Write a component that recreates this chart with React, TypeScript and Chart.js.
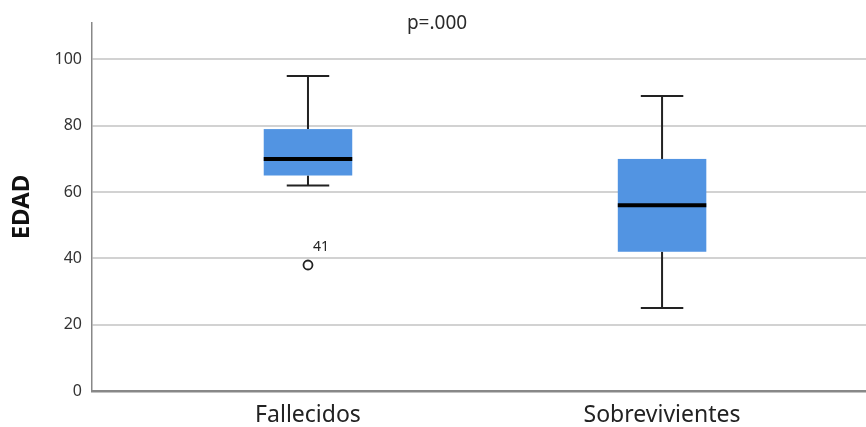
import React, { useEffect, useRef } from "react";
import { Chart, registerables } from "chart.js";

Chart.register(...registerables);

const categories = ["Fallecidos", "Sobrevivientes"];
const whiskerLow = [62, 25];
const q1 = [65, 42];
const median = [70, 56];
const q3 = [79, 70];
const whiskerHigh = [95, 89];
const outlierCats = [0];
const outlierValues = [38];
const outlierLabels = ["41"];
const yTicks = [0, 20, 40, 60, 80, 100];
const titleText = "p=.000";
const yTitle = "EDAD";

const FONT = "'Noto Sans', 'DejaVu Sans', sans-serif";

const boxPlugin = {
  id: "boxPlugin",
  beforeDatasetsDraw(chart: any) {
    const { ctx, scales } = chart;
    const xs = scales.x;
    const ys = scales.y;
    const boxHalf = 0.125;
    const capHalf = 0.06;
    ctx.save();
    categories.forEach((_, i) => {
      const xl = xs.getPixelForValue(i - boxHalf);
      const xr = xs.getPixelForValue(i + boxHalf);
      const xc = xs.getPixelForValue(i);
      const cl = xs.getPixelForValue(i - capHalf);
      const cr = xs.getPixelForValue(i + capHalf);
      const yLo = ys.getPixelForValue(whiskerLow[i]);
      const yQ1 = ys.getPixelForValue(q1[i]);
      const yMed = ys.getPixelForValue(median[i]);
      const yQ3 = ys.getPixelForValue(q3[i]);
      const yHi = ys.getPixelForValue(whiskerHigh[i]);
      ctx.strokeStyle = "#222";
      ctx.lineWidth = 2;
      ctx.beginPath();
      ctx.moveTo(xc, yHi);
      ctx.lineTo(xc, yQ3);
      ctx.moveTo(xc, yQ1);
      ctx.lineTo(xc, yLo);
      ctx.moveTo(cl, yHi);
      ctx.lineTo(cr, yHi);
      ctx.moveTo(cl, yLo);
      ctx.lineTo(cr, yLo);
      ctx.stroke();
      ctx.fillStyle = "#5294E2";
      ctx.fillRect(xl, yQ3, xr - xl, yQ1 - yQ3);
      ctx.strokeStyle = "#000";
      ctx.lineWidth = 4;
      ctx.beginPath();
      ctx.moveTo(xl, yMed);
      ctx.lineTo(xr, yMed);
      ctx.stroke();
    });
    ctx.restore();
  },
  afterDatasetsDraw(chart: any) {
    const { ctx, scales } = chart;
    const xs = scales.x;
    const ys = scales.y;
    ctx.save();
    ctx.fillStyle = "#222";
    ctx.font = `14px ${FONT}`;
    ctx.textAlign = "left";
    ctx.textBaseline = "middle";
    outlierValues.forEach((v, k) => {
      const px = xs.getPixelForValue(outlierCats[k]);
      const py = ys.getPixelForValue(v);
      ctx.fillText(outlierLabels[k], px + 5, py - 18);
    });
    ctx.fillStyle = "#2a2a2a";
    ctx.font = `19px ${FONT}`;
    ctx.textAlign = "center";
    ctx.fillText(titleText, 437, 24);
    ctx.restore();
  },
};

export default function App() {
  const ref = useRef<HTMLCanvasElement>(null);
  useEffect(() => {
    if (!ref.current) return;
    const chart = new Chart(ref.current, {
      type: "scatter",
      data: {
        datasets: [
          {
            data: outlierValues.map((v, k) => ({ x: outlierCats[k], y: v })),
            pointStyle: "circle",
            pointRadius: 4.5,
            pointBorderWidth: 1.8,
            pointBorderColor: "#222",
            pointBackgroundColor: "#fff",
          },
        ],
      },
      options: {
        animation: false,
        responsive: false,
        layout: { autoPadding: false, padding: { top: 23, left: 0, right: 0, bottom: 0 } },
        plugins: {
          legend: { display: false },
          tooltip: { enabled: false },
          title: { display: false },
        },
        scales: {
          x: {
            type: "linear",
            min: -0.61,
            max: 1.576,
            afterBuildTicks: (s: any) => {
              s.ticks = categories.map((_, i) => ({ value: i }));
            },
            afterFit: (s: any) => {
              s.height = 36;
            },
            ticks: {
              callback: (v: any) => categories[v] ?? "",
              color: "#222",
              font: { family: FONT, size: 23 },
              padding: 11,
              autoSkip: false,
              maxRotation: 0,
            },
            grid: { display: false, drawTicks: false },
            border: { display: true, color: "#888", width: 2.5 },
          },
          y: {
            min: 0,
            max: 111,
            afterBuildTicks: (s: any) => {
              s.ticks = yTicks.map((v) => ({ value: v }));
            },
            afterFit: (s: any) => {
              s.width = 92;
            },
            ticks: {
              color: "#333",
              font: { family: FONT, size: 16 },
              padding: 10,
            },
            grid: { color: "#d2d2d2", lineWidth: 2, drawTicks: false },
            border: { display: true, color: "#888", width: 1.5 },
            title: {
              display: true,
              text: yTitle,
              color: "#111",
              font: { family: FONT, size: 24, weight: "bold" },
              padding: { top: 8, bottom: 0 },
            },
          },
        },
      },
      plugins: [boxPlugin],
    } as any);
    return () => chart.destroy();
  }, []);
  return (
    <div style={{ position: "absolute", left: 0, top: 0, width: 866, height: 427, background: "#fff" }}>
      <canvas ref={ref} width={866} height={427} style={{ display: "block", width: 866, height: 427 }} />
    </div>
  );
}
